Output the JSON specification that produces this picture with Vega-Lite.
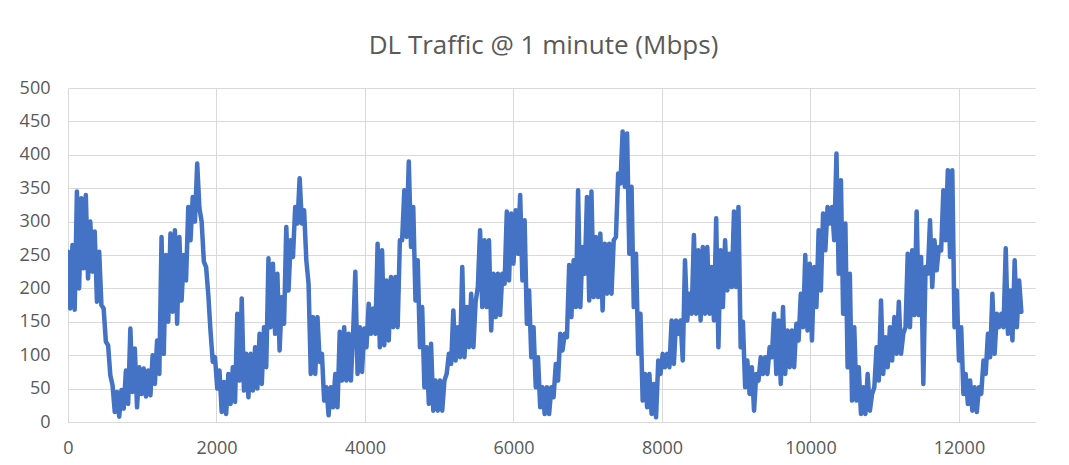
{
  "$schema": "https://vega.github.io/schema/vega-lite/v6.json",
  "autosize": {"type": "none"},
  "width": 967,
  "height": 334,
  "padding": {"left": 68, "top": 88, "right": 34, "bottom": 43},
  "background": "white",
  "title": {"text": "DL Traffic @ 1 minute (Mbps)", "font": "Open Sans", "fontSize": 26, "fontWeight": "normal", "color": "#595959", "anchor": "middle", "frame": "group", "baseline": "alphabetic", "offset": -1, "dx": -8},
  "config": {"view": {"stroke": null}},
  "data": {"values": [
{"t":0,"v":255},{"t":30,"v":170},{"t":60,"v":265},{"t":90,"v":168},{"t":120,"v":345},{"t":150,"v":200},{"t":180,"v":335},{"t":210,"v":230},{"t":240,"v":340},{"t":270,"v":215},{"t":300,"v":300},{"t":330,"v":225},{"t":360,"v":285},{"t":390,"v":180},{"t":420,"v":255},{"t":450,"v":175},{"t":480,"v":170},{"t":510,"v":120},{"t":540,"v":115},{"t":570,"v":70},{"t":600,"v":55},{"t":630,"v":15},{"t":660,"v":45},{"t":690,"v":8},{"t":720,"v":48},{"t":750,"v":20},{"t":780,"v":77},{"t":810,"v":27},{"t":840,"v":140},{"t":870,"v":45},{"t":900,"v":110},{"t":930,"v":22},{"t":960,"v":82},{"t":990,"v":42},{"t":1020,"v":80},{"t":1050,"v":38},{"t":1080,"v":77},{"t":1110,"v":40},{"t":1140,"v":100},{"t":1170,"v":57},{"t":1200,"v":122},{"t":1230,"v":72},{"t":1260,"v":277},{"t":1290,"v":102},{"t":1320,"v":250},{"t":1350,"v":150},{"t":1380,"v":282},{"t":1410,"v":165},{"t":1440,"v":287},{"t":1470,"v":147},{"t":1500,"v":277},{"t":1530,"v":182},{"t":1560,"v":250},{"t":1590,"v":212},{"t":1620,"v":322},{"t":1650,"v":272},{"t":1680,"v":337},{"t":1710,"v":300},{"t":1740,"v":387},{"t":1770,"v":320},{"t":1800,"v":300},{"t":1830,"v":240},{"t":1860,"v":232},{"t":1890,"v":190},{"t":1920,"v":135},{"t":1950,"v":90},{"t":1980,"v":97},{"t":2010,"v":50},{"t":2040,"v":77},{"t":2070,"v":15},{"t":2100,"v":60},{"t":2130,"v":12},
{"t":2160,"v":72},{"t":2190,"v":27},{"t":2220,"v":82},{"t":2250,"v":30},{"t":2280,"v":162},{"t":2310,"v":62},{"t":2340,"v":185},{"t":2370,"v":47},{"t":2400,"v":102},{"t":2430,"v":37},{"t":2460,"v":102},{"t":2490,"v":47},{"t":2520,"v":112},{"t":2550,"v":50},{"t":2580,"v":132},{"t":2610,"v":57},{"t":2640,"v":142},{"t":2670,"v":82},{"t":2700,"v":245},{"t":2730,"v":142},{"t":2760,"v":237},{"t":2790,"v":132},{"t":2820,"v":222},{"t":2850,"v":107},{"t":2880,"v":187},{"t":2910,"v":147},{"t":2940,"v":292},{"t":2970,"v":197},{"t":3000,"v":272},{"t":3030,"v":247},{"t":3060,"v":322},{"t":3090,"v":297},{"t":3120,"v":365},{"t":3150,"v":297},{"t":3180,"v":317},{"t":3210,"v":242},{"t":3240,"v":207},{"t":3270,"v":72},{"t":3300,"v":157},{"t":3330,"v":72},{"t":3360,"v":157},{"t":3390,"v":90},{"t":3420,"v":102},{"t":3450,"v":32},{"t":3480,"v":52},{"t":3510,"v":10},{"t":3540,"v":52},{"t":3570,"v":22},{"t":3600,"v":72},{"t":3630,"v":22},{"t":3660,"v":135},{"t":3690,"v":62},{"t":3720,"v":142},{"t":3750,"v":62},{"t":3780,"v":132},{"t":3810,"v":62},{"t":3840,"v":132},{"t":3870,"v":225},{"t":3900,"v":72},{"t":3930,"v":142},{"t":3960,"v":75},{"t":3990,"v":140},{"t":4020,"v":112},{"t":4050,"v":177},{"t":4080,"v":132},{"t":4110,"v":170},{"t":4140,"v":132},{"t":4170,"v":267},{"t":4200,"v":112},{"t":4230,"v":257},{"t":4260,"v":115},{"t":4290,"v":212},
{"t":4320,"v":122},{"t":4350,"v":217},{"t":4380,"v":142},{"t":4410,"v":217},{"t":4440,"v":142},{"t":4470,"v":272},{"t":4500,"v":272},{"t":4530,"v":347},{"t":4560,"v":277},{"t":4590,"v":390},{"t":4620,"v":262},{"t":4650,"v":322},{"t":4680,"v":182},{"t":4710,"v":242},{"t":4740,"v":112},{"t":4770,"v":172},{"t":4800,"v":52},{"t":4830,"v":112},{"t":4860,"v":27},{"t":4890,"v":117},{"t":4920,"v":17},{"t":4950,"v":62},{"t":4980,"v":17},{"t":5010,"v":62},{"t":5040,"v":17},{"t":5070,"v":62},{"t":5100,"v":72},{"t":5130,"v":102},{"t":5160,"v":87},{"t":5190,"v":167},{"t":5220,"v":92},{"t":5250,"v":142},{"t":5280,"v":97},{"t":5310,"v":232},{"t":5340,"v":97},{"t":5370,"v":172},{"t":5400,"v":112},{"t":5430,"v":192},{"t":5460,"v":112},{"t":5490,"v":180},{"t":5520,"v":202},{"t":5550,"v":287},{"t":5580,"v":172},{"t":5610,"v":272},{"t":5640,"v":172},{"t":5670,"v":272},{"t":5700,"v":137},{"t":5730,"v":222},{"t":5760,"v":157},{"t":5790,"v":222},{"t":5820,"v":160},{"t":5850,"v":222},{"t":5880,"v":207},{"t":5910,"v":315},{"t":5940,"v":212},{"t":5970,"v":312},{"t":6000,"v":237},{"t":6030,"v":317},{"t":6060,"v":252},{"t":6090,"v":340},{"t":6120,"v":212},{"t":6150,"v":302},{"t":6180,"v":147},{"t":6210,"v":197},{"t":6240,"v":97},{"t":6270,"v":142},{"t":6300,"v":52},{"t":6330,"v":97},{"t":6360,"v":22},{"t":6390,"v":52},{"t":6420,"v":12},{"t":6450,"v":52},
{"t":6480,"v":12},{"t":6510,"v":52},{"t":6540,"v":37},{"t":6570,"v":87},{"t":6600,"v":62},{"t":6630,"v":132},{"t":6660,"v":107},{"t":6690,"v":132},{"t":6720,"v":127},{"t":6750,"v":235},{"t":6780,"v":157},{"t":6810,"v":242},{"t":6840,"v":172},{"t":6870,"v":347},{"t":6900,"v":172},{"t":6930,"v":262},{"t":6960,"v":222},{"t":6990,"v":337},{"t":7020,"v":182},{"t":7050,"v":345},{"t":7080,"v":187},{"t":7110,"v":277},{"t":7140,"v":187},{"t":7170,"v":282},{"t":7200,"v":167},{"t":7230,"v":267},{"t":7260,"v":192},{"t":7290,"v":267},{"t":7320,"v":192},{"t":7350,"v":272},{"t":7380,"v":277},{"t":7410,"v":372},{"t":7440,"v":357},{"t":7470,"v":435},{"t":7500,"v":352},{"t":7530,"v":432},{"t":7560,"v":252},{"t":7590,"v":352},{"t":7620,"v":172},{"t":7650,"v":252},{"t":7680,"v":102},{"t":7710,"v":162},{"t":7740,"v":32},{"t":7770,"v":72},{"t":7800,"v":22},{"t":7830,"v":72},{"t":7860,"v":12},{"t":7890,"v":57},{"t":7920,"v":7},{"t":7950,"v":92},{"t":7980,"v":72},{"t":8010,"v":102},{"t":8040,"v":82},{"t":8070,"v":102},{"t":8100,"v":82},{"t":8130,"v":152},{"t":8160,"v":87},{"t":8190,"v":152},{"t":8220,"v":132},{"t":8250,"v":152},{"t":8280,"v":92},{"t":8310,"v":242},{"t":8340,"v":152},{"t":8370,"v":192},{"t":8400,"v":162},{"t":8430,"v":280},{"t":8460,"v":162},{"t":8490,"v":257},{"t":8520,"v":152},{"t":8550,"v":262},
{"t":8580,"v":162},{"t":8610,"v":262},{"t":8640,"v":162},{"t":8670,"v":232},{"t":8700,"v":152},{"t":8730,"v":305},{"t":8760,"v":112},{"t":8790,"v":257},{"t":8820,"v":172},{"t":8850,"v":272},{"t":8880,"v":197},{"t":8910,"v":252},{"t":8940,"v":202},{"t":8970,"v":315},{"t":9000,"v":202},{"t":9030,"v":322},{"t":9060,"v":112},{"t":9090,"v":150},{"t":9120,"v":52},{"t":9150,"v":92},{"t":9180,"v":42},{"t":9210,"v":82},{"t":9240,"v":17},{"t":9270,"v":72},{"t":9300,"v":62},{"t":9330,"v":97},{"t":9360,"v":72},{"t":9390,"v":97},{"t":9420,"v":72},{"t":9450,"v":112},{"t":9480,"v":97},{"t":9510,"v":162},{"t":9540,"v":72},{"t":9570,"v":152},{"t":9600,"v":57},{"t":9630,"v":172},{"t":9660,"v":72},{"t":9690,"v":137},{"t":9720,"v":82},{"t":9750,"v":137},{"t":9780,"v":82},{"t":9810,"v":147},{"t":9840,"v":122},{"t":9870,"v":192},{"t":9900,"v":142},{"t":9930,"v":250},{"t":9960,"v":137},{"t":9990,"v":237},{"t":10020,"v":122},{"t":10050,"v":232},{"t":10080,"v":172},{"t":10110,"v":287},{"t":10140,"v":197},{"t":10170,"v":312},{"t":10200,"v":257},{"t":10230,"v":322},{"t":10260,"v":297},{"t":10290,"v":322},{"t":10320,"v":272},{"t":10350,"v":402},{"t":10380,"v":222},{"t":10410,"v":362},{"t":10440,"v":162},{"t":10470,"v":297},{"t":10500,"v":82},{"t":10530,"v":222},{"t":10560,"v":32},{"t":10590,"v":142},{"t":10620,"v":32},{"t":10650,"v":82},{"t":10680,"v":12},{"t":10710,"v":52},
{"t":10740,"v":12},{"t":10770,"v":72},{"t":10800,"v":17},{"t":10830,"v":42},{"t":10860,"v":52},{"t":10890,"v":112},{"t":10920,"v":62},{"t":10950,"v":182},{"t":10980,"v":72},{"t":11010,"v":127},{"t":11040,"v":82},{"t":11070,"v":142},{"t":11100,"v":92},{"t":11130,"v":157},{"t":11160,"v":102},{"t":11190,"v":180},{"t":11220,"v":102},{"t":11250,"v":132},{"t":11280,"v":142},{"t":11310,"v":252},{"t":11340,"v":142},{"t":11370,"v":257},{"t":11400,"v":160},{"t":11430,"v":315},{"t":11460,"v":160},{"t":11490,"v":247},{"t":11520,"v":57},{"t":11550,"v":232},{"t":11580,"v":222},{"t":11610,"v":302},{"t":11640,"v":202},{"t":11670,"v":272},{"t":11700,"v":227},{"t":11730,"v":262},{"t":11760,"v":257},{"t":11790,"v":347},{"t":11820,"v":272},{"t":11850,"v":377},{"t":11880,"v":247},{"t":11910,"v":377},{"t":11940,"v":142},{"t":11970,"v":197},{"t":12000,"v":92},{"t":12030,"v":142},{"t":12060,"v":42},{"t":12090,"v":72},{"t":12120,"v":27},{"t":12150,"v":62},{"t":12180,"v":17},{"t":12210,"v":52},{"t":12240,"v":15},{"t":12270,"v":52},{"t":12300,"v":42},{"t":12330,"v":92},{"t":12360,"v":72},{"t":12390,"v":132},{"t":12420,"v":97},{"t":12450,"v":192},{"t":12480,"v":102},{"t":12510,"v":162},{"t":12540,"v":142},{"t":12570,"v":162},{"t":12600,"v":142},{"t":12630,"v":260},{"t":12660,"v":132},{"t":12690,"v":197},{"t":12720,"v":122},{"t":12750,"v":242},{"t":12780,"v":142},{"t":12810,"v":212},{"t":12840,"v":165}
  ]},
  "mark": {"type": "line", "color": "#4472C4", "strokeWidth": 4.5, "strokeJoin": "round", "strokeCap": "round", "clip": true},
  "encoding": {
    "x": {"field": "t", "type": "quantitative", "scale": {"domain": [0, 13024], "nice": false, "zero": false},
      "axis": {"values": [0, 2000, 4000, 6000, 8000, 10000, 12000], "format": "d", "title": null, "grid": true, "gridColor": "#d9d9d9", "gridWidth": 1, "domainColor": "#d9d9d9", "domainWidth": 1, "ticks": false, "labelFont": "Open Sans", "labelFontSize": 18, "labelColor": "#595959", "labelPadding": 17, "labelFlush": false}},
    "y": {"field": "v", "type": "quantitative", "scale": {"domain": [0, 500], "nice": false},
      "axis": {"values": [0, 50, 100, 150, 200, 250, 300, 350, 400, 450, 500], "title": null, "grid": true, "gridColor": "#d9d9d9", "gridWidth": 1, "domain": false, "ticks": false, "labelFont": "Open Sans", "labelFontSize": 18, "labelColor": "#595959", "labelPadding": 18}}
  }
}
